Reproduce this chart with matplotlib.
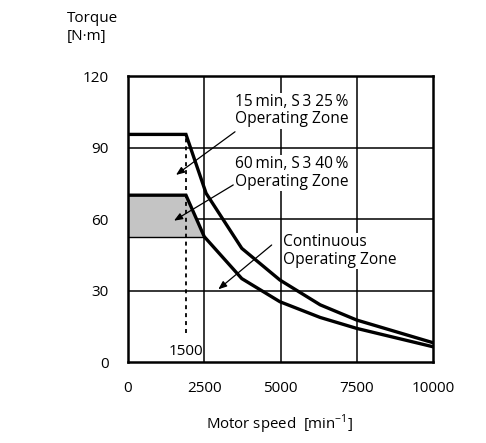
import matplotlib
matplotlib.use("Agg")
import matplotlib.pyplot as plt

plt.rcParams['font.family'] = ['Open Sans', 'DejaVu Sans']

# Data
speed_upper = [0, 1900, 2560, 3730, 4980, 6300, 7500, 10000]
torque_upper = [95.5, 95.5, 70.8, 47.7, 34.4, 24.0, 17.6, 8.1]
speed_lower = [0, 1900, 2500, 3730, 4980, 6300, 7500, 10000]
torque_lower = [70, 70, 52.6, 35.0, 25.3, 18.7, 14.1, 6.4]
shade_speed = [0, 1900, 2500]
shade_top = [70, 70, 52.6]
shade_bottom = 52.6
corner_speed = 1900
corner_label = "1500"
x_ticks = [0, 2500, 5000, 7500, 10000]
y_ticks = [0, 30, 60, 90, 120]

fig = plt.figure(figsize=(4.86, 4.43), dpi=100)
ax = fig.add_axes([0.2634, 0.1828, 0.6276, 0.6456])
ax.set_xlim(0, 10000)
ax.set_ylim(0, 120)

# grid
for x in x_ticks[1:-1]:
    ax.axvline(x, color='black', lw=1.1, zorder=1)
for y in y_ticks[1:-1]:
    ax.axhline(y, color='black', lw=1.1, zorder=1)

# shaded area
ax.fill_between(shade_speed, shade_bottom, shade_top, color='#c4c4c4', lw=0, zorder=2)
ax.plot([0, 2500], [shade_bottom, shade_bottom], color='black', lw=1.0, zorder=2)

# dashed line
ax.plot([corner_speed, corner_speed], [12, 95.5], color='black', lw=1.3,
        linestyle=(0, (2.2, 2.2)), zorder=2)
ax.text(corner_speed, 1.2, corner_label, ha='center', va='bottom', fontsize=11)

ax.plot(speed_upper, torque_upper, color='black', lw=2.4, zorder=3, solid_joinstyle='miter')
ax.plot(speed_lower, torque_lower, color='black', lw=2.4, zorder=3, solid_joinstyle='miter')

box = dict(facecolor='white', edgecolor='none', pad=1.0)
ts = 11.2
ax.text(3500, 105.5, "15\u2009min, S\u20093 25\u2009%\nOperating Zone", ha='left', va='center',
        fontsize=ts, linespacing=1.1, bbox=box, zorder=4)
ax.text(3500, 79.3, "60\u2009min, S\u20093 40\u2009%\nOperating Zone", ha='left', va='center',
        fontsize=ts, linespacing=1.1, bbox=box, zorder=4)
ax.text(5090, 46.6, "Continuous\nOperating Zone", ha='left', va='center',
        fontsize=ts, linespacing=1.1, bbox=box, zorder=4)

arrow = dict(arrowstyle='-|>,head_length=0.5,head_width=0.2', color='black', lw=0.9,
             shrinkA=0, shrinkB=0)
ax.annotate("", xy=(1574, 78.5), xytext=(3508, 96.6), arrowprops=arrow, zorder=5)
ax.annotate("", xy=(1508, 59.3), xytext=(3450, 74.3), arrowprops=arrow, zorder=5)
ax.annotate("", xy=(2960, 30.5), xytext=(4710, 49.1), arrowprops=arrow, zorder=5)

ax.set_xticks(x_ticks)
ax.set_xticklabels([str(v) for v in x_ticks], fontsize=11)
ax.set_yticks(y_ticks)
ax.set_yticklabels([str(v) for v in y_ticks], fontsize=11)
ax.tick_params(length=0, pad=14)
ax.tick_params(axis='x', pad=14)
for s in ax.spines.values():
    s.set_linewidth(1.8)
    s.set_zorder(6)

fig.text(67 / 486, 1 - 11 / 443, "Torque\n[N·m]", ha='left', va='top', fontsize=11, linespacing=1.3)
fig.text(280 / 486, 1 - 424 / 443, r"Motor speed  [min$^{\mathregular{-1}}$]", ha='center', va='center', fontsize=10.8)

fig.savefig("out.png", dpi=100)
